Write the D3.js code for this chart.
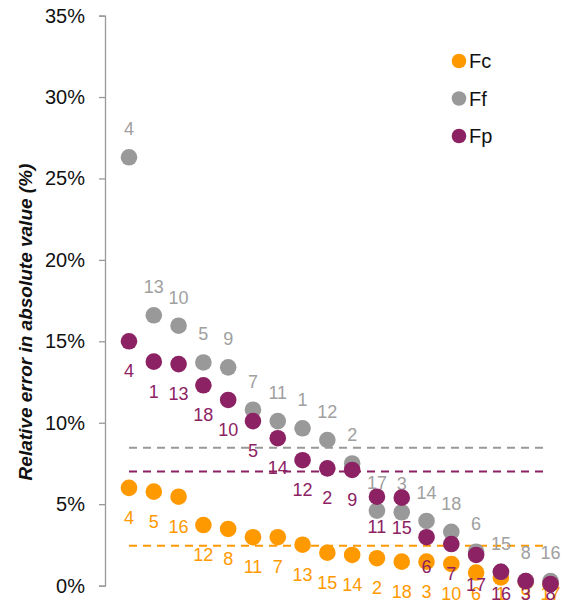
<!DOCTYPE html>
<html>
<head>
<meta charset="utf-8">
<script src="https://cdn.jsdelivr.net/npm/d3@7"></script>
<style>
  body { margin: 0; background: #fff; }
  svg { display: block; font-family: "Liberation Sans", Arial, sans-serif; }
</style>
</head>
<body>
<div id="chart"></div>
<script>
// rank position along x (1 = largest error)
var ranks = d3.range(1, 19);

// Fc series: sorted error values (%) and the item number shown beside each dot
var fcVals = [6.0, 5.77, 5.46, 3.72, 3.48, 2.97, 2.97, 2.51, 2.02, 1.88, 1.68, 1.47, 1.47, 1.33, 0.8, 0.5, 0.25, 0.1];
var fcLabels = [4, 5, 16, 12, 8, 11, 7, 13, 15, 14, 2, 18, 3, 10, 6, 1, 9, 17];

// Ff series
var ffVals = [26.3, 16.6, 15.96, 13.7, 13.4, 10.8, 10.1, 9.66, 8.94, 7.5, 4.6, 4.5, 3.97, 3.3, 2.08, 0.85, 0.28, 0.28];
var ffLabels = [4, 13, 10, 5, 9, 7, 11, 1, 12, 2, 17, 3, 14, 18, 6, 15, 8, 16];

// Fp series
var fpVals = [15.0, 13.75, 13.6, 12.3, 11.4, 10.1, 9.05, 7.7, 7.2, 7.1, 5.46, 5.4, 2.97, 2.55, 1.88, 0.85, 0.28, 0.1];
var fpLabels = [4, 1, 13, 18, 10, 5, 14, 12, 2, 9, 11, 15, 6, 7, 17, 16, 3, 8];

// mean error per series (dashed lines)
var seriesNames = ['Fc', 'Ff', 'Fp'];
var meanVals = [2.45, 8.47, 7.0];

var yTicks = [0, 5, 10, 15, 20, 25, 30, 35];

var colors = {Fc: '#ff9900', Ff: '#999999', Fp: '#8c2263'};

var width = 567, height = 606;

var svg = d3.select('#chart')
    .append('svg')
    .attr('width', width)
    .attr('height', height);

var x = d3.scaleLinear().domain([1, 18]).range([129, 550.5]);
var y = d3.scaleLinear().domain([0, 35]).range([585.6, 15.6]);

// y axis
var yAxis = svg.append('g')
    .attr('transform', 'translate(105,0)')
    .call(d3.axisLeft(y)
      .tickValues(yTicks)
      .tickSize(6)
      .tickPadding(14)
      .tickFormat(function(d) { return d + '%'; }));
yAxis.select('.domain').attr('stroke', '#999').attr('stroke-width', 1.3);
yAxis.selectAll('.tick line').attr('stroke', '#999').attr('stroke-width', 1.3);
yAxis.selectAll('.tick text')
    .attr('fill', '#111')
    .style('font-size', '20px')
    .style('font-family', '"Liberation Sans", Arial, sans-serif');

svg.append('text')
    .attr('transform', 'translate(32,322) rotate(-90)')
    .attr('text-anchor', 'middle')
    .style('font-size', '19px')
    .style('font-weight', 'bold')
    .style('font-style', 'italic')
    .attr('fill', '#111')
    .text('Relative error in absolute value (%)');

// dashed mean lines
svg.selectAll('.mean')
    .data(seriesNames)
    .enter()
    .append('line')
    .attr('class', 'mean')
    .attr('x1', x(1))
    .attr('x2', x(18) - 6)
    .attr('y1', function(d, i) { return y(meanVals[i]); })
    .attr('y2', function(d, i) { return y(meanVals[i]); })
    .attr('stroke', function(d) { return colors[d]; })
    .attr('stroke-width', 2)
    .attr('stroke-dasharray', '8,6');

function drawSeries(name, vals, labels, labelDy) {
  var g = svg.append('g').attr('class', 'series-' + name);
  g.selectAll('circle')
      .data(ranks)
      .enter()
      .append('circle')
      .attr('cx', function(d) { return x(d); })
      .attr('cy', function(d, i) { return y(vals[i]); })
      .attr('r', 8.3)
      .attr('fill', colors[name]);
  // labels below the dots stay inside the plot area, as the original does
  g.selectAll('text')
      .data(ranks)
      .enter()
      .append('text')
      .attr('x', function(d) { return x(d); })
      .attr('y', function(d, i) { return Math.min(y(vals[i]) + labelDy, 600); })
      .attr('text-anchor', 'middle')
      .style('font-size', '18px')
      .attr('fill', name == 'Ff' ? '#a0a0a0' : colors[name])
      .text(function(d, i) { return labels[i]; });
}

drawSeries('Fc', fcVals, fcLabels, 36);
drawSeries('Ff', ffVals, ffLabels, -22);
drawSeries('Fp', fpVals, fpLabels, 36);

// legend
var legend = svg.append('g').attr('transform', 'translate(459,61)');
var items = legend.selectAll('g')
    .data(seriesNames)
    .enter()
    .append('g')
    .attr('transform', function(d, i) { return 'translate(0,' + (i * 37.5) + ')'; });
items.append('circle')
    .attr('r', 7.3)
    .attr('fill', function(d) { return colors[d]; });
items.append('text')
    .attr('x', 10)
    .attr('y', 7)
    .style('font-size', '20px')
    .attr('fill', '#111')
    .text(function(d) { return d; });
</script>
</body>
</html>
